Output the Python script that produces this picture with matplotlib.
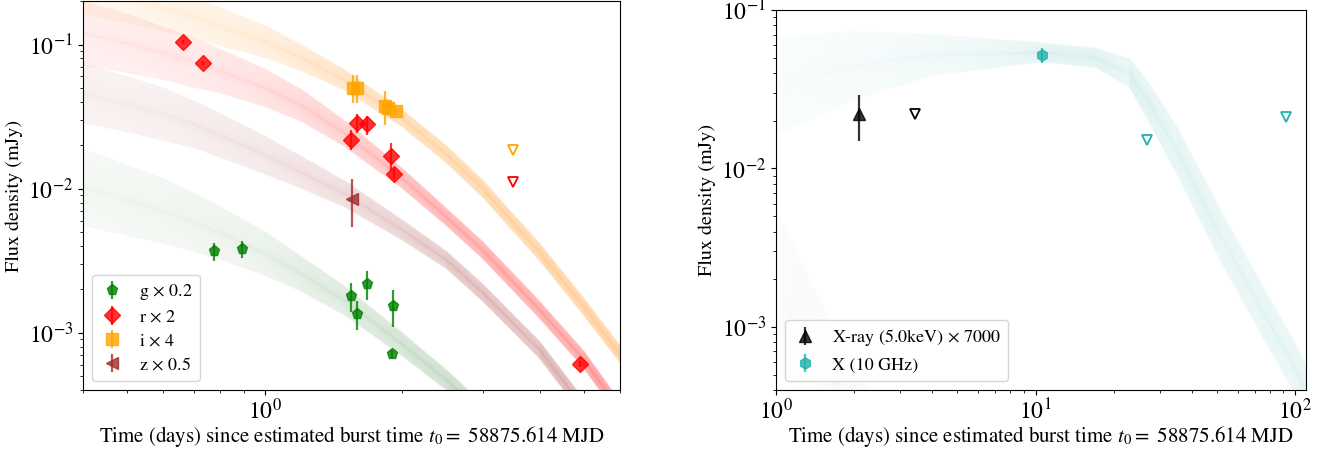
import numpy as np
import matplotlib
matplotlib.use('Agg')
import matplotlib.pyplot as plt
from matplotlib.ticker import NullFormatter

plt.rcParams['font.family'] = 'STIXGeneral'
plt.rcParams['mathtext.fontset'] = 'stix'
plt.rcParams['font.size'] = 14.5
plt.rcParams['xtick.labelsize'] = 17
plt.rcParams['ytick.labelsize'] = 17

# ---- left panel: optical model bands ----
band_t = [0.4, 0.5, 0.6, 0.7, 0.8, 1.0, 1.2, 1.5, 2.0, 2.5, 3.0, 4.0, 5.0, 6.0]
g_band = [0.0102, 0.0083, 0.0070, 0.00582, 0.0049, 0.00355, 0.00257, 0.00166,
          0.00083, 0.00047, 0.000275, 0.0001, 0.00004, 0.000016]
r_band = [0.120, 0.102, 0.0871, 0.0750, 0.0653, 0.0501, 0.0380, 0.0240,
          0.0118, 0.00635, 0.00375, 0.00144, 0.00065, 0.00029]
i_band = [0.256, 0.215, 0.180, 0.154, 0.133, 0.105, 0.0813, 0.0564,
          0.0308, 0.0173, 0.0100, 0.00363, 0.00151, 0.00071]
z_band = [0.0458, 0.0385, 0.0328, 0.0279, 0.0234, 0.0171, 0.0130, 0.00916,
          0.00516, 0.0032, 0.0019, 0.00076, 0.00030, 0.000112]
g_spread = [0.26, 0.24, 0.22, 0.20, 0.18, 0.15, 0.12, 0.10, 0.08, 0.07, 0.07, 0.07, 0.07, 0.07]
r_spread = [0.22, 0.20, 0.18, 0.17, 0.15, 0.13, 0.11, 0.09, 0.07, 0.06, 0.06, 0.06, 0.06, 0.06]
i_spread = [0.20, 0.18, 0.16, 0.14, 0.13, 0.11, 0.09, 0.07, 0.06, 0.06, 0.06, 0.06, 0.06, 0.06]
z_spread = [0.20, 0.19, 0.18, 0.16, 0.15, 0.13, 0.11, 0.09, 0.07, 0.06, 0.06, 0.06, 0.06, 0.06]

# ---- left panel: photometry ----
g_t = [0.773, 0.891, 1.548, 1.589, 1.671, 1.91, 1.90]
g_f = [0.00366, 0.00381, 0.0018, 0.00135, 0.00219, 0.00154, 0.000713]
g_err = [0.0005, 0.0005, 0.0004, 0.0003, 0.0005, 0.00045, 0.00005]

r_t = [0.664, 0.734, 1.548, 1.589, 1.671, 1.887, 1.92, 4.91]
r_f = [0.1037, 0.0743, 0.0219, 0.0285, 0.0279, 0.0169, 0.0126, 0.00061]
r_err = [0.003, 0.002, 0.0035, 0.0042, 0.0042, 0.0037, 0.001, 0.00003]

i_t = [1.558, 1.595, 1.835, 1.86, 1.94]
i_f = [0.050, 0.050, 0.0375, 0.036, 0.0343]
i_err = [0.011, 0.011, 0.010, 0.004, 0.002]

z_t = [1.55]
z_f = [0.0085]
z_err = [0.0031]

i_ul_t, i_ul_f = [3.5], [0.0185]
r_ul_t, r_ul_f = [3.5], [0.0111]

# ---- right panel ----
radio_band_t = [1.0, 1.9, 3.9, 10.5, 17, 23, 27, 35, 51, 74, 99, 110]
radio_band = [0.033, 0.044, 0.052, 0.054, 0.050, 0.040, 0.027, 0.013,
              0.0039, 0.0013, 0.00056, 0.00040]
radio_spread = [0.30, 0.22, 0.13, 0.06, 0.06, 0.09, 0.12, 0.15, 0.16, 0.16, 0.16, 0.16]
xray_band_t = [1.0, 1.15, 1.3, 1.5, 1.75, 2.0, 2.5]
xray_band = [0.0017, 0.0012, 0.00086, 0.0006, 0.0004, 0.00028, 0.00015]
xray_spread = [0.50, 0.45, 0.40, 0.35, 0.30, 0.30, 0.30]

xray_t, xray_f, xray_err = [2.09], [0.0221], [0.0071]
xray_ul_t, xray_ul_f = [3.42], [0.0221]
radio_t, radio_f, radio_err = [10.6], [0.052], [0.006]
radio_ul_t = [26.8, 92.4]
radio_ul_f = [0.0151, 0.0212]


def draw_band(ax, t, mid, spread, color, alpha=0.08, n=40):
    # fan of faint curves across the band, a little denser near the middle
    mid = np.asarray(mid)
    spread = np.asarray(spread)
    s = np.linspace(-1, 1, n)
    for k in np.sign(s) * np.abs(s) ** 1.15:
        ax.plot(t, mid * 10 ** (spread * k), color=color, alpha=alpha, lw=1.0, zorder=1)


fig = plt.figure(figsize=(13.32, 4.49), dpi=100)
ax1 = fig.add_axes([0.0623, 0.1314, 0.4032, 0.866])
ax2 = fig.add_axes([0.5826, 0.1314, 0.3979, 0.8463])

draw_band(ax1, band_t, g_band, g_spread, 'darkgreen', 0.055)
draw_band(ax1, band_t, z_band, z_spread, 'brown', 0.065)
draw_band(ax1, band_t, r_band, r_spread, 'red', 0.075)
draw_band(ax1, band_t, i_band, i_spread, 'darkorange', 0.075)

kw = dict(linestyle='none', alpha=0.8, elinewidth=1.6, zorder=3)
ax1.errorbar(g_t, g_f, yerr=g_err, fmt='p', color='green', ms=8, label=r'g $\times$ 0.2', **kw)
ax1.errorbar(r_t, r_f, yerr=r_err, fmt='D', color='red', ms=8, label=r'r $\times$ 2', **kw)
ax1.errorbar(i_t, i_f, yerr=i_err, fmt='s', color='orange', ms=8, label=r'i $\times$ 4', **kw)
ax1.errorbar(z_t, z_f, yerr=z_err, fmt='<', color='brown', ms=8, label=r'z $\times$ 0.5', **kw)
ax1.plot(i_ul_t, i_ul_f, 'v', mfc='none', mec='orange', ms=7, mew=1.3, zorder=3)
ax1.plot(r_ul_t, r_ul_f, 'v', mfc='none', mec='red', ms=7, mew=1.3, zorder=3)

ax1.set_xscale('log')
ax1.set_yscale('log')
ax1.set_xlim(0.4, 6.0)
ax1.set_ylim(4e-4, 0.2)
ax1.xaxis.set_minor_formatter(NullFormatter())
ax1.tick_params(axis='x', which='major', pad=2.5)
ax1.set_xlabel(r'Time (days) since estimated burst time $t_0 =$ 58875.614 MJD',
               fontsize=15, labelpad=0)
ax1.set_ylabel('Flux density (mJy)')
ax1.legend(loc='lower left', fontsize=13, handlelength=1.4, labelspacing=0.4)

draw_band(ax2, xray_band_t, xray_band, xray_spread, 'grey', 0.035)
draw_band(ax2, radio_band_t, radio_band, radio_spread, 'lightseagreen', 0.045)
ax2.errorbar(xray_t, xray_f, yerr=xray_err, fmt='^', color='black', ms=8,
             label=r'X-ray (5.0keV) $\times$ 7000', **kw)
ax2.errorbar(radio_t, radio_f, yerr=radio_err, fmt='h', color='lightseagreen', ms=8,
             label='X (10 GHz)', **kw)
ax2.plot(xray_ul_t, xray_ul_f, 'v', mfc='none', mec='black', ms=7, mew=1.3, zorder=3)
ax2.plot(radio_ul_t, radio_ul_f, 'v', mfc='none', mec='lightseagreen', ms=7, mew=1.3, zorder=3)

ax2.set_xscale('log')
ax2.set_yscale('log')
ax2.set_xlim(1, 110)
ax2.set_ylim(4e-4, 0.1)
ax2.tick_params(axis='x', which='major', pad=2.5)
ax2.set_xlabel(r'Time (days) since estimated burst time $t_0 =$ 58875.614 MJD',
               fontsize=15, labelpad=0)
ax2.set_ylabel('Flux density (mJy)')
ax2.legend(loc='lower left', fontsize=13, handlelength=1.4)

fig.savefig('out.png', dpi=100)
